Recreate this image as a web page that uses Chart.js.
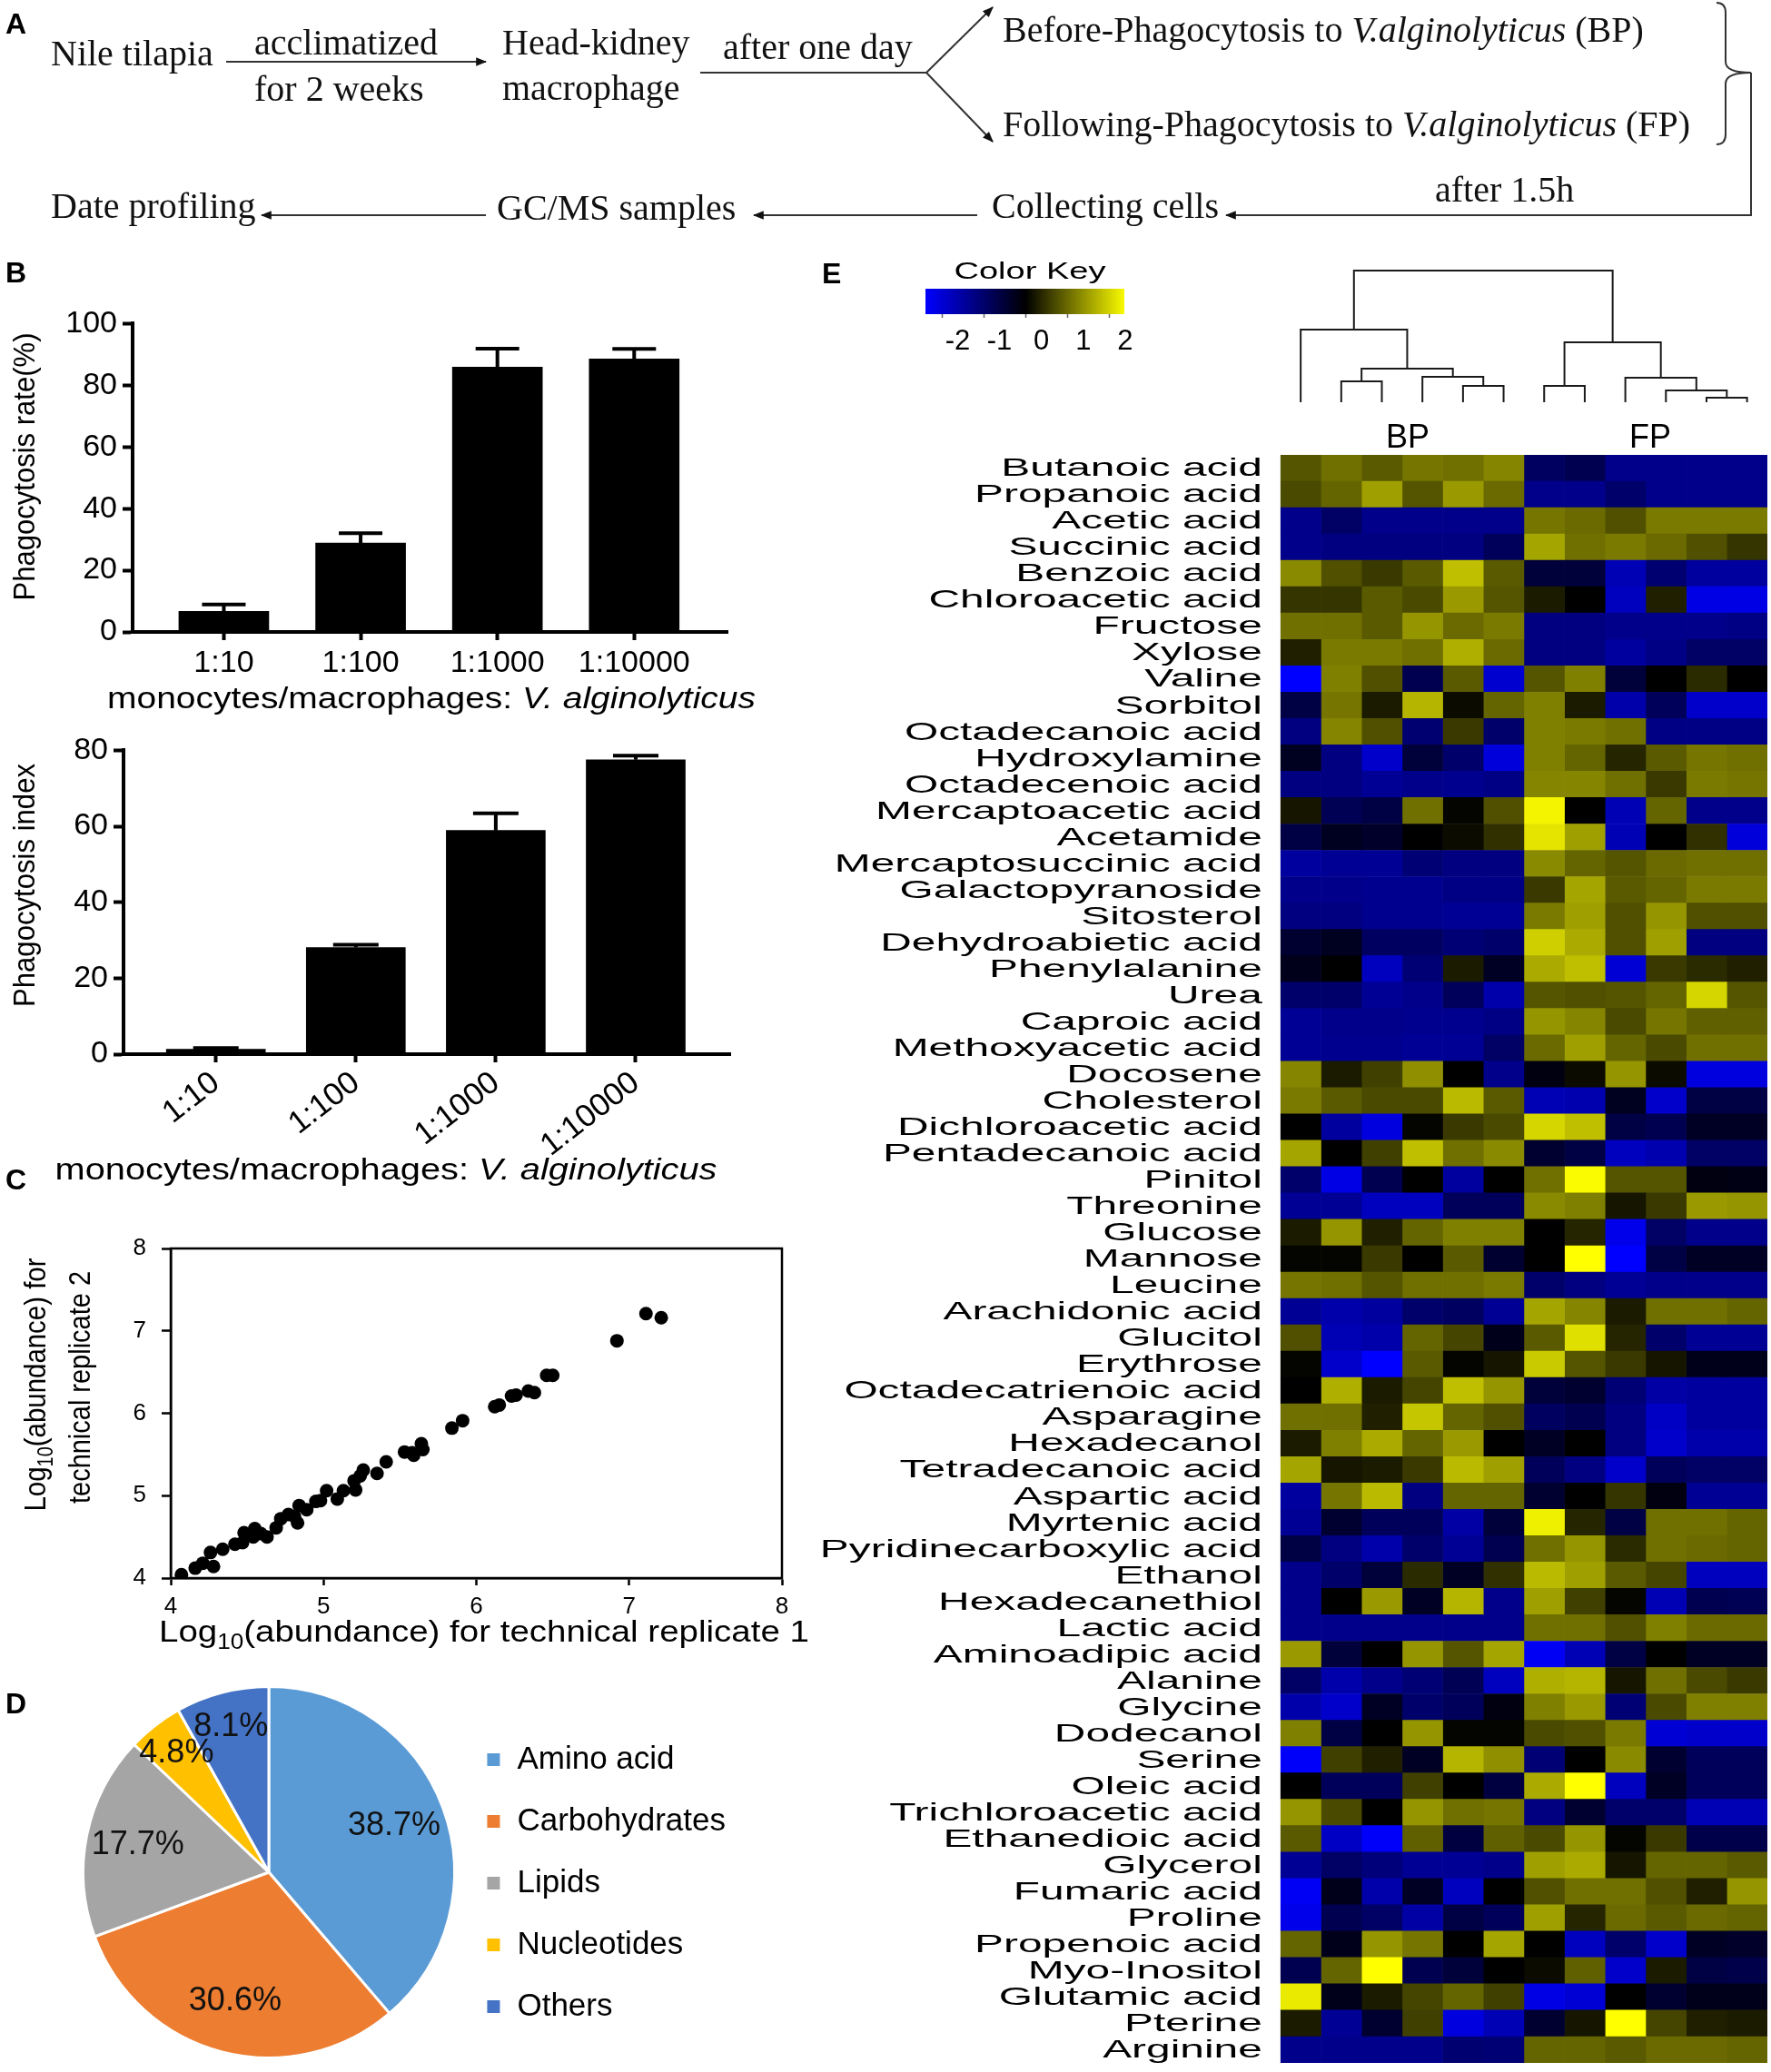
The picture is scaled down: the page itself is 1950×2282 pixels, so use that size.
<!DOCTYPE html>
<html>
<head>
<meta charset="utf-8">
<script src="https://cdn.jsdelivr.net/npm/chart.js@4.4.1/dist/chart.umd.min.js"></script>
<style>
  body { margin: 0; background: #fff; }
  #page { position: relative; width: 1950px; height: 2282px; overflow: hidden; background: #fff; }
  canvas { position: absolute; }
  svg.overlay { position: absolute; left: 0; top: 0; pointer-events: none; }
  svg text { font-family: "Liberation Sans", Arial, sans-serif; fill: #000; }
  svg text.serif { font-family: "Liberation Serif", "Times New Roman", serif; fill: #111; }
  svg text.letter { font-weight: bold; font-size: 32px; }
</style>
</head>
<body>
<div id="page">
  <canvas id="rate" width="860" height="470" style="left:0;top:330px"></canvas>
  <canvas id="index" width="860" height="480" style="left:0;top:800px"></canvas>
  <canvas id="replicates" width="900" height="450" style="left:0;top:1340px"></canvas>
  <canvas id="classes" width="900" height="442" style="left:0;top:1840px"></canvas>
  <canvas id="colorKey" width="290" height="100" style="left:990px;top:300px"></canvas>
  <canvas id="dendro" width="550" height="165" style="left:1400px;top:285px"></canvas>
  <canvas id="heatmap" width="1050" height="1787" style="left:900px;top:495px"></canvas>

  <svg class="overlay" width="1950" height="2282">
    <defs>
      <marker id="ah" viewBox="0 0 10 10" refX="9" refY="5" markerWidth="6" markerHeight="6" orient="auto">
        <path d="M0,1 L10,5 L0,9 z" fill="#111"/>
      </marker>
    </defs>
    <!-- panel letters -->
    <text class="letter" x="6" y="37">A</text>
    <text class="letter" x="6" y="311">B</text>
    <text class="letter" x="6" y="1310">C</text>
    <text class="letter" x="6" y="1887">D</text>
    <text class="letter" x="905" y="312">E</text>

    <!-- panel A flow -->
    <g font-size="40">
      <text class="serif" x="56" y="72">Nile tilapia</text>
      <text class="serif" x="280" y="60">acclimatized</text>
      <text class="serif" x="280" y="111">for 2 weeks</text>
      <text class="serif" x="553" y="60">Head-kidney</text>
      <text class="serif" x="553" y="110">macrophage</text>
      <text class="serif" x="796" y="65">after one day</text>
      <text class="serif" x="1104" y="46">Before-Phagocytosis to <tspan font-style="italic">V.alginolyticus</tspan> (BP)</text>
      <text class="serif" x="1104" y="150">Following-Phagocytosis to <tspan font-style="italic">V.alginolyticus</tspan> (FP)</text>
      <text class="serif" x="1580" y="222">after 1.5h</text>
      <text class="serif" x="1092" y="240">Collecting cells</text>
      <text class="serif" x="547" y="242">GC/MS samples</text>
      <text class="serif" x="56" y="240">Date profiling</text>
    </g>
    <g stroke="#333" stroke-width="2" fill="none">
      <line x1="249" y1="68" x2="535" y2="68" marker-end="url(#ah)"/>
      <line x1="771" y1="80" x2="1020" y2="80"/>
      <line x1="1020" y1="80" x2="1093" y2="8" marker-end="url(#ah)"/>
      <line x1="1020" y1="80" x2="1093" y2="156" marker-end="url(#ah)"/>
      <path d="M1890,3 Q1900,3 1900,14 L1900,68 Q1900,80 1928,80 Q1900,80 1900,92 L1900,148 Q1900,159 1890,159"/>
      <path d="M1928,80 L1928,237 L1350,237" marker-end="url(#ah)"/>
      <line x1="1076" y1="237" x2="830" y2="237" marker-end="url(#ah)"/>
      <line x1="535" y1="237" x2="288" y2="237" marker-end="url(#ah)"/>
    </g>

    <!-- panel B axis titles -->
    <text transform="translate(38,514) rotate(-90)" text-anchor="middle" font-size="34" textLength="295" lengthAdjust="spacingAndGlyphs">Phagocytosis rate(%)</text>
    <text x="475" y="780" text-anchor="middle" font-size="34" textLength="714" lengthAdjust="spacingAndGlyphs">monocytes/macrophages: <tspan font-style="italic">V. alginolyticus</tspan></text>
    <text transform="translate(38,975) rotate(-90)" text-anchor="middle" font-size="34" textLength="268" lengthAdjust="spacingAndGlyphs">Phagocytosis index</text>
    <text x="425" y="1299" text-anchor="middle" font-size="34" textLength="729" lengthAdjust="spacingAndGlyphs">monocytes/macrophages: <tspan font-style="italic">V. alginolyticus</tspan></text>

    <!-- panel C axis titles -->
    <text x="533" y="1808" text-anchor="middle" font-size="34" textLength="716" lengthAdjust="spacingAndGlyphs">Log<tspan font-size="23" dy="8">10</tspan><tspan dy="-8">(abundance) for technical replicate 1</tspan></text>
    <text transform="translate(50,1525) rotate(-90)" text-anchor="middle" font-size="34" textLength="279" lengthAdjust="spacingAndGlyphs">Log<tspan font-size="23" dy="8">10</tspan><tspan dy="-8">(abundance) for</tspan></text>
    <text transform="translate(99,1528) rotate(-90)" text-anchor="middle" font-size="34" textLength="256" lengthAdjust="spacingAndGlyphs">technical replicate 2</text>

    <!-- panel E annotations -->
    <text x="1134" y="307" text-anchor="middle" font-size="26" textLength="167" lengthAdjust="spacingAndGlyphs">Color Key</text>
    <text x="1550" y="493" text-anchor="middle" font-size="36">BP</text>
    <text x="1817" y="493" text-anchor="middle" font-size="36">FP</text>
  </svg>
</div>

<script>
// ---- data ----
const ratios = ["1:10", "1:100", "1:1000", "1:10000"];
const phagoRate = [6.7, 28.8, 85.9, 88.5];
const phagoRateErr = [2.2, 3.2, 6.0, 3.3];
const phagoIndex = [1.3, 28.1, 58.9, 77.5];
const phagoIndexErr = [0.3, 0.7, 4.5, 1.1];

const rep1 = [4.07, 4.16, 4.21, 4.26, 4.28, 4.34, 4.42, 4.47, 4.48, 4.54, 4.55, 4.59, 4.63, 4.69, 4.72,
  4.77, 4.81, 4.83, 4.84, 4.89, 4.95, 4.98, 5.02, 5.09, 5.13, 5.21, 5.20, 5.24, 5.26, 5.35, 5.41, 5.53,
  5.58, 5.59, 5.64, 5.65, 5.84, 5.91, 6.12, 6.15, 6.23, 6.26, 6.34, 6.38, 6.46, 6.50, 6.92, 7.11, 7.21];
const rep2 = [4.04, 4.12, 4.18, 4.31, 4.14, 4.35, 4.41, 4.43, 4.55, 4.50, 4.60, 4.54, 4.50, 4.61, 4.72,
  4.77, 4.75, 4.67, 4.88, 4.83, 4.93, 4.94, 5.06, 4.96, 5.06, 5.07, 5.18, 5.24, 5.31, 5.27, 5.41, 5.53,
  5.52, 5.49, 5.63, 5.56, 5.82, 5.91, 6.08, 6.10, 6.21, 6.22, 6.27, 6.25, 6.46, 6.46, 6.88, 7.21, 7.16];

const classes = ["Amino acid", "Carbohydrates", "Lipids", "Nucleotides", "Others"];
const classShares = [38.7, 30.6, 17.7, 4.8, 8.1];
const classColors = ["#5B9BD5", "#ED7D31", "#A5A5A5", "#FFC000", "#4472C4"];

const metabolites = ["Butanoic acid", "Propanoic acid", "Acetic acid", "Succinic acid", "Benzoic acid",
  "Chloroacetic acid", "Fructose", "Xylose", "Valine", "Sorbitol", "Octadecanoic acid", "Hydroxylamine",
  "Octadecenoic acid", "Mercaptoacetic acid", "Acetamide", "Mercaptosuccinic acid", "Galactopyranoside",
  "Sitosterol", "Dehydroabietic acid", "Phenylalanine", "Urea", "Caproic acid", "Methoxyacetic acid",
  "Docosene", "Cholesterol", "Dichloroacetic acid", "Pentadecanoic acid", "Pinitol", "Threonine", "Glucose",
  "Mannose", "Leucine", "Arachidonic acid", "Glucitol", "Erythrose", "Octadecatrienoic acid", "Asparagine",
  "Hexadecanol", "Tetradecanoic acid", "Aspartic acid", "Myrtenic acid", "Pyridinecarboxylic acid", "Ethanol",
  "Hexadecanethiol", "Lactic acid", "Aminoadipic acid", "Alanine", "Glycine", "Dodecanol", "Serine",
  "Oleic acid", "Trichloroacetic acid", "Ethanedioic acid", "Glycerol", "Fumaric acid", "Proline",
  "Propenoic acid", "Myo-Inositol", "Glutamic acid", "Pterine", "Arginine"];

// z-scores, one row per metabolite, six BP samples
const bpZ = [
  [0.8, 1.05, 0.85, 1.1, 1.05, 1.25], [0.7, 0.95, 1.5, 0.8, 1.45, 1.0], [-1.3, -0.95, -1.3, -1.3, -1.3, -1.3],
  [-1.3, -1.2, -1.2, -1.2, -1.2, -0.85], [1.3, 0.75, 0.55, 0.85, 1.8, 0.85], [0.5, 0.5, 0.85, 0.7, 1.45, 0.8],
  [1.05, 1.05, 0.85, 1.4, 1.0, 1.15], [0.3, 1.15, 1.15, 1.05, 1.65, 1.0], [-2.4, 1.2, 0.75, -0.75, 0.85, -1.95],
  [-0.65, 1.1, 0.25, 1.7, 0.1, 0.95], [-1.2, 1.25, 0.75, -1.05, 0.55, -1.0], [-0.3, -1.2, -1.9, -0.55, -1.0, -2.05],
  [-1.2, -1.2, -1.4, -1.3, -1.35, -1.25], [0.2, -0.8, -0.65, 1.05, 0.05, 0.75], [-0.65, -0.3, -0.4, 0, 0.1, 0.45],
  [-1.5, -1.4, -1.4, -1.1, -1.2, -1.2], [-1.3, -1.3, -1.35, -1.35, -1.25, -1.25], [-1.2, -1.2, -1.35, -1.35, -1.4, -1.4],
  [-0.45, -0.3, -0.9, -0.9, -1.1, -1.0], [-0.25, 0, -1.8, -1.1, 0.25, -0.35], [-1.0, -1.0, -1.4, -1.3, -0.85, -1.6],
  [-1.4, -1.3, -1.3, -1.35, -1.35, -1.25], [-1.4, -1.35, -1.35, -1.4, -1.4, -0.95], [1.25, 0.25, 0.6, 1.35, 0, -1.3],
  [1.15, 0.85, 0.7, 0.7, 1.75, 0.85], [0, -1.5, -2.1, 0.05, 0.55, 0.7], [1.55, 0, 0.6, 1.8, 1.05, 1.3],
  [-1.0, -2.15, -0.75, 0, -1.5, 0], [-1.4, -1.4, -1.8, -1.8, -0.85, -0.85], [0.25, 1.4, 0.3, 0.95, 1.2, 1.2],
  [0.05, 0.05, 0.55, 0, 0.85, -0.45], [1.1, 1.05, 0.8, 1.05, 1.05, 1.15], [-1.4, -1.6, -1.5, -1.0, -0.9, -1.4],
  [0.75, -1.7, -1.6, 0.95, 0.65, -0.25], [0.05, -1.9, -2.4, 0.85, 0.05, 0.2], [0, 1.65, 0.25, 0.65, 1.8, 1.4],
  [1.05, 1.05, 0.3, 1.85, 0.95, 0.75], [0.25, 1.2, 1.6, 0.95, 1.45, 0], [1.55, 0.2, 0.25, 0.55, 1.75, 1.5],
  [-1.5, 1.1, 1.75, -1.2, 0.95, 0.95], [-1.4, -0.45, -0.85, -0.85, -1.55, -0.55], [-0.65, -1.2, -1.6, -1.0, -1.4, -0.75],
  [-1.3, -1.0, -0.55, 0.4, -0.35, 0.45], [-1.3, 0, 1.45, -0.35, 1.7, -1.3], [-1.3, -1.3, -1.3, -1.3, -1.3, -1.3],
  [1.45, -0.55, 0, 1.4, 0.8, 1.55], [-0.95, -1.6, -1.3, -1.1, -0.8, -1.8], [-1.6, -1.9, -0.35, -1.0, -0.85, -0.15],
  [1.2, -0.65, 0, 1.4, 0.05, 0.05], [-2.35, 0.6, 0.3, -0.35, 1.7, 1.35], [0, -0.85, -0.85, 0.6, 0, -0.6],
  [1.4, 0.7, 0, 1.4, 1.05, 1.1], [0.85, -1.85, -2.35, 0.9, -0.6, 0.9], [-1.4, -0.95, -1.15, -1.4, -1.4, -1.3],
  [-2.3, -0.25, -1.6, -0.35, -1.8, 0], [-2.2, -0.75, -0.95, -1.55, -0.65, -0.85], [0.95, -0.25, 1.4, 1.1, 0, 1.55],
  [-0.75, 0.95, 2.4, -0.75, -0.55, 0], [2.2, -0.25, 0.25, 0.65, 0.95, 0.6], [0.25, -1.4, -0.45, 0.6, -2.1, -1.7],
  [-1.3, -1.3, -1.3, -1.3, -1.05, -1.1]
];
// six FP samples
const fpZ = [
  [-0.9, -0.75, -1.3, -1.3, -1.3, -1.3], [-1.3, -1.3, -1.0, -1.3, -1.3, -1.3], [1.1, 1.0, 0.75, 1.15, 1.15, 1.15],
  [1.55, 1.05, 1.15, 1.0, 0.75, 0.5], [-0.55, -0.55, -1.7, -1.05, -1.5, -1.5], [0.25, 0, -1.8, 0.3, -2.15, -2.15],
  [-1.2, -1.2, -1.3, -1.3, -1.3, -1.25], [-1.2, -1.2, -1.5, -1.25, -0.95, -0.95], [0.8, 1.2, -0.55, 0, 0.4, 0],
  [1.2, 0.25, -1.6, -0.85, -1.9, -1.9], [1.2, 1.15, 1.05, -1.25, -1.25, -1.25], [1.2, 0.95, 0.35, 0.85, 1.1, 1.05],
  [1.25, 1.25, 1.05, 0.55, 1.15, 1.1], [2.3, 0, -1.7, 0.95, -1.3, -1.3], [2.15, 1.5, -1.7, 0, 0.45, -2.05],
  [1.3, 0.95, 0.8, 1.0, 1.05, 1.05], [0.55, 1.55, 0.85, 0.95, 1.15, 1.15], [1.15, 1.5, 0.75, 1.4, 0.75, 0.75],
  [1.95, 1.6, 0.75, 1.5, -1.2, -1.2], [1.6, 1.8, -2.0, 0.55, 0.4, 0.3], [0.8, 0.75, 0.8, 0.95, 2.0, 0.8],
  [1.4, 1.25, 0.7, 1.1, 0.9, 0.9], [1.0, 1.5, 0.95, 0.7, 1.05, 1.05], [-0.15, 0.1, 1.4, 0.1, -2.1, -2.1],
  [-1.7, -1.65, -0.3, -1.9, -0.65, -0.65], [2.0, 1.8, -0.65, -0.75, -0.35, -0.35], [-0.45, -0.65, -1.8, -1.65, -0.95, -0.95],
  [1.05, 2.35, 0.8, 0.8, -0.15, -0.2], [1.3, 1.2, 0.2, 0.55, 1.45, 1.4], [0, 0.35, -2.2, -0.95, -1.3, -1.3],
  [0, 2.4, -2.4, -0.65, -0.35, -0.35], [-1.0, -1.2, -1.4, -1.3, -1.3, -1.3], [1.55, 1.25, 0.25, 1.05, 1.05, 0.95],
  [0.85, 2.1, 0.35, -1.0, -1.4, -1.4], [1.9, 0.8, 0.55, 0.2, -0.25, -0.25], [-0.55, -0.45, -1.1, -1.55, -1.5, -1.5],
  [-0.9, -0.75, -1.2, -1.85, -1.5, -1.5], [-0.35, 0, -1.2, -1.9, -1.6, -1.6], [-0.85, -1.2, -1.9, -0.85, -0.95, -0.95],
  [-0.45, 0, 0.5, -0.15, -1.4, -1.4], [2.25, 0.35, -0.65, 1.05, 1.05, 0.95], [1.05, 1.4, 0.4, 1.05, 1.0, 0.95],
  [1.75, 1.5, 0.85, 0.65, -1.8, -1.8], [1.5, 0.6, 0.05, -1.7, -0.75, -0.8], [1.05, 1.05, 0.75, 1.2, 1.0, 1.0],
  [-2.3, -1.7, -0.65, 0, -0.35, -0.35], [1.65, 1.7, 0.2, 1.05, 0.7, 0.55], [1.2, 1.45, -1.1, 0.7, 1.2, 1.2],
  [0.7, 0.75, 1.15, -2.0, -1.9, -1.9], [-1.1, 0, 1.3, -0.45, -0.85, -0.85], [1.6, 2.4, -1.8, -0.35, -0.85, -0.85],
  [-1.2, -0.45, -1.0, -1.0, -1.7, -1.7], [0.7, 1.4, 0.05, 0.55, -0.7, -0.7], [1.5, 1.6, 0.2, 0.95, 0.95, 0.85],
  [0.75, 1.05, 1.05, 0.75, 0.3, 1.4], [1.5, 0.35, 1.0, 0.85, 1.0, 0.95], [0, -1.8, -1.0, -1.9, -0.35, -0.4],
  [0.1, 0.9, -1.9, 0.25, -0.65, -0.7], [-2.15, -2.0, 0, -0.45, -0.25, -0.25], [-0.45, 0.2, 2.4, 0.65, 0.3, 0.25],
  [0.95, 0.95, 0.85, 1.0, 1.0, 0.95]
];

// column dendrogram, hclust style: negative = leaf (1-based), positive = earlier merge
const dendroMerges = [
  [-2, -3, 23], [-5, -6, 18], [-4, 2, 28], [1, 3, 37], [-1, 4, 80],
  [-7, -8, 18], [-11, -12, 5], [-10, 7, 13], [-9, 8, 27], [6, 9, 66], [5, 10, 145]
];

const keyTicks = [-2, -1, 0, 1, 2];
const keyRange = [-2.4, 2.35];
const zLimit = 2.4;

// ---- setup ----
Chart.defaults.font.family = "'Liberation Sans', Arial, sans-serif";
Chart.defaults.color = "#000";
Chart.defaults.animation = false;
Chart.defaults.plugins.tooltip.enabled = false;
Chart.defaults.plugins.legend.display = false;

function zColor(v) {
  const t = Math.min(1, Math.abs(v) / zLimit);
  const c = Math.round(255 * t);
  return v >= 0 ? `rgb(${c},${c},0)` : `rgb(0,0,${c})`;
}

const errorBars = {
  id: "errorBars",
  afterDatasetsDraw(chart, args, o) {
    const { ctx, scales: { y } } = chart;
    const meta = chart.getDatasetMeta(0);
    ctx.save();
    ctx.strokeStyle = "#000";
    ctx.lineWidth = 4;
    meta.data.forEach((bar, i) => {
      const v = chart.data.datasets[0].data[i].y;
      const top = y.getPixelForValue(v + o.errors[i]);
      ctx.beginPath();
      ctx.moveTo(bar.x, bar.y);
      ctx.lineTo(bar.x, top);
      ctx.moveTo(bar.x - o.cap, top);
      ctx.lineTo(bar.x + o.cap, top);
      ctx.stroke();
    });
    ctx.restore();
  }
};

function barChart(id, values, errors, o) {
  return new Chart(document.getElementById(id), {
    type: "bar",
    data: {
      datasets: [{
        data: values.map((v, i) => ({ x: i + 1, y: v })),
        backgroundColor: "#000",
        barThickness: o.barWidth
      }]
    },
    options: {
      responsive: false,
      layout: { padding: { top: o.top, right: o.right, left: 0, bottom: 0 } },
      plugins: { errorBars: { errors, cap: o.cap } },
      scales: {
        x: {
          type: "linear", min: o.xMin, max: o.xMax, offset: false,
          afterFit: s => { s.height = o.xHeight; },
          afterBuildTicks: s => { s.ticks = ratios.map((_, i) => ({ value: i + 1 })); },
          ticks: {
            callback: v => ratios[v - 1], autoSkip: false,
            minRotation: o.rot, maxRotation: o.rot,
            font: { size: o.xFont }, padding: o.xPad
          },
          grid: { drawOnChartArea: false, offset: false, tickLength: 9, tickWidth: 4, tickColor: "#000" },
          border: { color: "#000", width: 4 }
        },
        y: {
          min: 0, max: o.yMax,
          afterFit: s => { s.width = o.yWidth; },
          ticks: { stepSize: 20, font: { size: 34 }, padding: 6 },
          grid: { drawOnChartArea: false, tickLength: 11, tickWidth: 4, tickColor: "#000" },
          border: { color: "#000", width: 4 }
        }
      }
    },
    plugins: [errorBars]
  });
}

// ---- panel B ----
barChart("rate", phagoRate, phagoRateErr, {
  barWidth: 99, cap: 24, top: 22.6, right: 59, xMin: 0.333, xMax: 4.682,
  xHeight: 104, rot: 0, xFont: 34, xPad: 5, yMax: 100, yWidth: 146
});
barChart("index", phagoIndex, phagoIndexErr, {
  barWidth: 109, cap: 25, top: 19, right: 56, xMin: 0.34, xMax: 4.675,
  xHeight: 119, rot: 38, xFont: 35, xPad: 2, yMax: 80, yWidth: 136
});

// ---- panel C ----
const frame = {
  id: "frame",
  afterDraw(chart) {
    const { ctx, chartArea: a } = chart;
    ctx.save();
    ctx.strokeStyle = "#000";
    ctx.lineWidth = 2.5;
    ctx.strokeRect(a.left, a.top, a.right - a.left, a.bottom - a.top);
    ctx.restore();
  }
};
new Chart(document.getElementById("replicates"), {
  type: "scatter",
  data: {
    datasets: [{
      data: rep1.map((v, i) => ({ x: v, y: rep2[i] })),
      backgroundColor: "#000", borderWidth: 0, pointRadius: 7.5
    }]
  },
  options: {
    responsive: false,
    layout: { padding: { top: 35, right: 39, left: 0, bottom: 0 } },
    scales: {
      x: {
        min: 4, max: 8,
        afterFit: s => { s.height = 52; },
        ticks: { stepSize: 1, font: { size: 26 }, padding: 8 },
        grid: { drawOnChartArea: false, tickLength: 8, tickWidth: 2.5, tickColor: "#000" },
        border: { color: "#000", width: 2.5 }
      },
      y: {
        min: 4, max: 8,
        afterFit: s => { s.width = 188; },
        ticks: { stepSize: 1, font: { size: 26 }, padding: 17 },
        grid: { drawOnChartArea: false, tickLength: 10, tickWidth: 2.5, tickColor: "#000" },
        border: { color: "#000", width: 2.5 }
      }
    }
  },
  plugins: [frame]
});

// ---- panel D ----
const sliceLabels = {
  id: "sliceLabels",
  afterDatasetsDraw(chart) {
    const { ctx } = chart;
    const meta = chart.getDatasetMeta(0);
    ctx.save();
    ctx.font = "36px 'Liberation Sans', Arial, sans-serif";
    ctx.fillStyle = "#111";
    ctx.textAlign = "center";
    ctx.textBaseline = "middle";
    meta.data.forEach((arc, i) => {
      const v = chart.data.datasets[0].data[i];
      const mid = (arc.startAngle + arc.endAngle) / 2;
      const r = arc.outerRadius * (v < 10 ? 0.81 : 0.72);
      ctx.fillText(v.toFixed(1) + "%", arc.x + Math.cos(mid) * r, arc.y + Math.sin(mid) * r);
    });
    ctx.restore();
  }
};
new Chart(document.getElementById("classes"), {
  type: "pie",
  data: {
    labels: classes,
    datasets: [{ data: classShares, backgroundColor: classColors, borderColor: "#fff", borderWidth: 3 }]
  },
  options: {
    responsive: false,
    layout: { padding: { left: 90, top: 10, bottom: 8, right: 91 } },
    plugins: {
      legend: {
        display: true, position: "right",
        title: { display: true, text: "", padding: 6, font: { size: 10 } },
        labels: { boxWidth: 17, boxHeight: 17, padding: 33, font: { size: 35 }, color: "#000" }
      }
    }
  },
  plugins: [sliceLabels]
});

// ---- panel E: colour key ----
new Chart(document.getElementById("colorKey"), {
  type: "bar",
  data: {
    labels: [""],
    datasets: [{
      data: [keyRange],
      barPercentage: 1, categoryPercentage: 1, borderWidth: 0,
      backgroundColor: c => {
        const chart = c.chart;
        if (!chart.chartArea) return "#000";
        const xs = chart.scales.x;
        const g = chart.ctx.createLinearGradient(xs.getPixelForValue(-zLimit), 0, xs.getPixelForValue(zLimit), 0);
        g.addColorStop(0, "rgb(0,0,255)");
        g.addColorStop(0.5, "#000");
        g.addColorStop(1, "rgb(255,255,0)");
        return g;
      }
    }]
  },
  options: {
    indexAxis: "y",
    responsive: false,
    layout: { padding: { left: 29, right: 42, top: 18, bottom: 0 } },
    scales: {
      x: {
        min: keyRange[0], max: keyRange[1],
        afterFit: s => { s.height = 54; },
        afterBuildTicks: s => { s.ticks = keyTicks.map(v => ({ value: v })); },
        ticks: { font: { size: 31 }, padding: 8, labelOffset: 17 },
        grid: { drawOnChartArea: false, tickLength: 4, tickWidth: 1.5, tickColor: "#666" },
        border: { display: false }
      },
      y: { display: false }
    }
  }
});

// ---- panel E: dendrogram ----
const nodes = [];
function nodePos(k) {
  return k < 0 ? { x: -k - 1, h: 0 } : nodes[k - 1];
}
const dendroSets = dendroMerges.map(([a, b, h]) => {
  const l = nodePos(a), r = nodePos(b);
  nodes.push({ x: (l.x + r.x) / 2, h });
  return {
    data: [{ x: l.x, y: l.h }, { x: l.x, y: h }, { x: r.x, y: h }, { x: r.x, y: r.h }],
    showLine: true, borderColor: "#1a1a1a", borderWidth: 2, pointRadius: 0, clip: false
  };
});
new Chart(document.getElementById("dendro"), {
  type: "scatter",
  data: { datasets: dendroSets },
  options: {
    responsive: false,
    layout: { padding: { left: 9.8, right: 4, top: 13, bottom: 7 } },
    scales: {
      x: { display: false, min: -0.5, max: 11.5 },
      y: { display: false, min: 0, max: 145 }
    }
  }
});

// ---- panel E: heatmap ----
const rowLabels = {
  id: "rowLabels",
  afterDraw(chart, args, o) {
    const { ctx, chartArea, scales: { y } } = chart;
    ctx.save();
    ctx.font = `${o.size}px 'Liberation Sans', Arial, sans-serif`;
    ctx.fillStyle = "#000";
    ctx.textAlign = "right";
    ctx.textBaseline = "middle";
    chart.data.labels.forEach((lab, i) => {
      ctx.save();
      ctx.translate(chartArea.left - o.gap, y.getPixelForValue(i) + 1);
      ctx.scale(o.stretch, 1);
      ctx.fillText(lab, 0, 0);
      ctx.restore();
    });
    ctx.restore();
  }
};
const zRows = metabolites.map((_, i) => bpZ[i].concat(fpZ[i]));
const heatSets = zRows[0].map((_, j) => ({
  data: metabolites.map(() => 1),
  backgroundColor: zRows.map(r => zColor(r[j])),
  barPercentage: 1, categoryPercentage: 1, borderWidth: 0
}));
new Chart(document.getElementById("heatmap"), {
  type: "bar",
  data: { labels: metabolites, datasets: heatSets },
  options: {
    indexAxis: "y",
    responsive: false,
    layout: { padding: { left: 509.8, right: 4, top: 6, bottom: 10 } },
    plugins: { rowLabels: { size: 28, stretch: 1.71, gap: 20 } },
    scales: {
      x: { display: false, stacked: true, min: 0, max: 12 },
      y: { display: false, stacked: true }
    }
  },
  plugins: [rowLabels]
});
</script>
</body>
</html>
